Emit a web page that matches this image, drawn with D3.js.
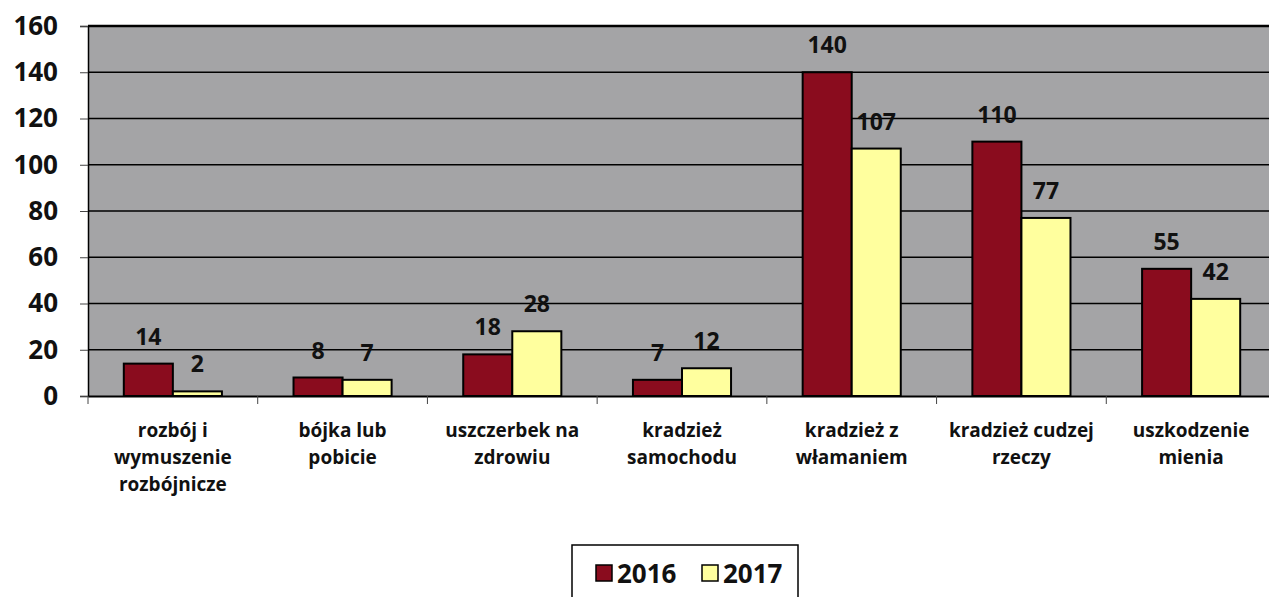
<!DOCTYPE html>
<html><head><meta charset="utf-8">
<script src="https://cdn.jsdelivr.net/npm/d3@7"></script>
<style>body{margin:0;background:#fff}svg{display:block}</style>
</head><body>
<script>
const categories = [["rozbój i","wymuszenie","rozbójnicze"],["bójka lub","pobicie"],["uszczerbek na","zdrowiu"],["kradzież","samochodu"],["kradzież z","włamaniem"],["kradzież cudzej","rzeczy"],["uszkodzenie","mienia"]];
const series = ["2016","2017"];
const values2016 = [14, 8, 18, 7, 140, 110, 55];
const values2017 = [2, 7, 28, 12, 107, 77, 42];
const yTicks = [0,20,40,60,80,100,120,140,160];
const colors = {"2016":"#8a0c1e","2017":"#ffff9e"};

const W = 1269, H = 597;
const svg = d3.select("body").append("svg").attr("width", W).attr("height", H);
const font = "'Open Sans', sans-serif";

const pLeft = 88, pRight = 1276, pTop = 26, pBottom = 396;
const idx = d3.range(categories.length);
const x0 = d3.scaleBand().domain(idx).range([pLeft, pRight]).padding(0);
const x1 = d3.scaleBand().domain(series).range([0, x0.bandwidth()]).paddingInner(0).paddingOuter(0.73);
const y = d3.scaleLinear().domain([0,160]).range([pBottom, pTop]);

svg.append("rect").attr("x", pLeft).attr("y", pTop).attr("width", pRight-pLeft).attr("height", pBottom-pTop).attr("fill", "#a4a4a6");

// gridlines
svg.append("g").selectAll("line").data(yTicks.filter(t=>t>0)).join("line")
  .attr("x1", pLeft).attr("x2", pRight).attr("y1", d=>y(d)).attr("y2", d=>y(d))
  .attr("stroke", "#000").attr("stroke-width", d=>d===160?2.5:1.5);

// y axis
const yAxis = d3.axisLeft(y).tickValues(yTicks).tickSize(8).tickPadding(22).tickFormat(d3.format("d"));
const gy = svg.append("g").attr("transform", `translate(${pLeft},0)`).call(yAxis);
gy.select(".domain").attr("stroke", "#000").attr("stroke-width", 1.5);
gy.selectAll(".tick line").attr("stroke", "#444").attr("stroke-width", 1);
gy.selectAll("text").attr("font-family", font).attr("font-weight", "bold").attr("font-size", 26).attr("fill", "#111");

// bars
const data = [];
idx.forEach(i => {
  data.push({i, s:"2016", v: values2016[i]});
  data.push({i, s:"2017", v: values2017[i]});
});
svg.append("g").selectAll("rect").data(data).join("rect")
  .attr("x", d => x0(d.i) + x1(d.s))
  .attr("y", d => y(d.v))
  .attr("width", x1.bandwidth())
  .attr("height", d => y(0) - y(d.v))
  .attr("fill", d => colors[d.s])
  .attr("stroke", "#000").attr("stroke-width", 2);

// value labels
svg.append("g").selectAll("text").data(data).join("text")
  .attr("x", d => x0(d.i) + x1(d.s) + x1.bandwidth()/2)
  .attr("y", d => y(d.v) - 19)
  .attr("text-anchor", "middle")
  .attr("font-family", font).attr("font-weight", "bold").attr("font-size", 23).attr("fill", "#111")
  .text(d => d.v);

// x axis
const xAxis = d3.axisBottom(x0).tickSize(0).tickFormat("");
const gx = svg.append("g").attr("transform", `translate(0,${pBottom})`).call(xAxis);
gx.select(".domain").attr("stroke", "#000").attr("stroke-width", 2);
svg.append("g").selectAll("line").data(idx).join("line")
  .attr("x1", d => x0(d)).attr("x2", d => x0(d)).attr("y1", pBottom).attr("y2", pBottom + 8)
  .attr("stroke", "#444").attr("stroke-width", 1);

// category labels
const cl = svg.append("g").selectAll("text").data(idx).join("text")
  .attr("x", d => x0(d) + x0.bandwidth()/2)
  .attr("y", 437)
  .attr("text-anchor", "middle")
  .attr("font-family", font).attr("font-weight", "bold").attr("font-size", 19).attr("fill", "#111");
cl.selectAll("tspan").data(d => categories[d]).join("tspan")
  .attr("x", function(){ return d3.select(this.parentNode).attr("x"); })
  .attr("dy", (d,k) => k===0 ? 0 : 27)
  .text(d => d);

// legend
const lg = svg.append("g");
lg.append("rect").attr("x", 572).attr("y", 545).attr("width", 226).attr("height", 70).attr("fill", "#fff").attr("stroke", "#000").attr("stroke-width", 1.5);
const items = [{s:"2016", x:596},{s:"2017", x:702}];
items.forEach(it => {
  lg.append("rect").attr("x", it.x).attr("y", 565).attr("width", 16).attr("height", 16)
    .attr("fill", colors[it.s]).attr("stroke", "#000").attr("stroke-width", 1.5);
  lg.append("text").attr("x", it.x + 21).attr("y", 583)
    .attr("font-family", font).attr("font-weight", "bold").attr("font-size", 26).attr("fill", "#111")
    .text(it.s);
});
</script>
</body></html>
